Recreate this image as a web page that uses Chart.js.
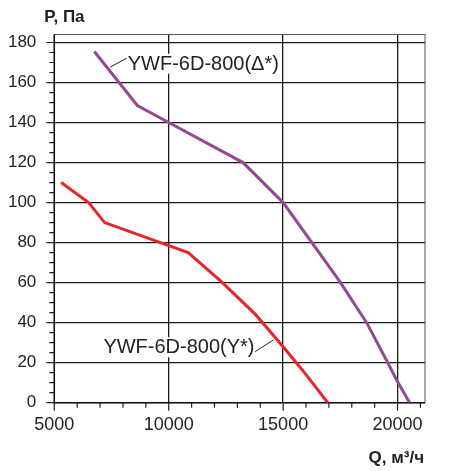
<!DOCTYPE html>
<html>
<head>
<meta charset="utf-8">
<script src="https://cdn.jsdelivr.net/npm/chart.js@4.4.0/dist/chart.umd.min.js"></script>
<style>
  body { margin: 0; background: #fff; }
  #wrap { width: 454px; height: 471px; }
</style>
</head>
<body>
<div id="wrap"><canvas id="chart"></canvas></div>
<script>
// curve data
const qDelta = [6750, 8630, 10000, 13250, 15000, 17450, 18650, 19550, 20000, 20530];
const pDelta = [175.5, 148.5, 140, 120, 100, 61, 40, 20.5, 10.5, 0];
const qStar = [5300, 6500, 7200, 10850, 12300, 13800, 15000, 15900, 16950];
const pStar = [110, 100, 90, 75, 60.5, 44, 28, 15.5, 0];

const labelDelta = 'YWF-6D-800(\u0394*)';
const labelStar = 'YWF-6D-800(Y*)';

const xTicks = [];
for (let q = 5000; q <= 21000; q += 1000) xTicks.push(q);
const yTicks = [];
for (let p = 0; p <= 180; p += 5) yTicks.push(p);

const purple = '#974893';
const red = '#e6262a';

function toPoints(xs, ys) {
    return xs.map((x, i) => ({ x: x, y: ys[i] }));
}

// frame, minor ticks, axis titles and curve labels
const extras = {
    id: 'extras',
    beforeDatasetsDraw(chart) {
        const ctx = chart.ctx;
        const a = chart.chartArea;
        const xs = chart.scales.x;
        const ys = chart.scales.y;
        ctx.save();
        ctx.strokeStyle = '#555';
        ctx.lineWidth = 1;
        ctx.strokeRect(a.left, a.top, a.right - a.left, a.bottom - a.top);

        ctx.strokeStyle = '#222';
        ctx.lineWidth = 1.2;
        ctx.beginPath();
        xs.ticks.forEach(t => {
            const px = xs.getPixelForValue(t.value);
            const len = t.value % 5000 === 0 ? 8 : 5;
            ctx.moveTo(px, a.bottom);
            ctx.lineTo(px, a.bottom + len);
        });
        ys.ticks.forEach(t => {
            const py = ys.getPixelForValue(t.value);
            const len = t.value % 20 === 0 ? 8 : 5;
            ctx.moveTo(a.left, py);
            ctx.lineTo(a.left - len, py);
        });
        ctx.stroke();

        ctx.strokeStyle = '#111';
        ctx.lineWidth = 1.5;
        ctx.beginPath();
        ctx.moveTo(a.left, a.top);
        ctx.lineTo(a.left, a.bottom);
        ctx.lineTo(a.right, a.bottom);
        ctx.stroke();

        ctx.fillStyle = '#222';
        ctx.font = 'bold 17px "Liberation Sans", Arial, sans-serif';
        ctx.textBaseline = 'alphabetic';
        ctx.textAlign = 'left';
        ctx.fillText('P, \u041f\u0430', a.left - 10, 22);
        ctx.textAlign = 'right';
        ctx.fillText('Q, \u043c\u00b3/\u0447', a.right - 1, 463);
        ctx.restore();
    },
    afterDatasetsDraw(chart) {
        const ctx = chart.ctx;
        const xs = chart.scales.x;
        const ys = chart.scales.y;
        ctx.save();
        ctx.font = '20px "Liberation Sans", Arial, sans-serif';
        ctx.textBaseline = 'alphabetic';

        // label for the delta curve, text starts to the right
        let tx = xs.getPixelForValue(8210);
        let ty = ys.getPixelForValue(166.4);
        let w = ctx.measureText(labelDelta).width;
        ctx.fillStyle = '#fff';
        ctx.fillRect(tx - 1, ty - 16, w + 2, 20);
        ctx.fillStyle = '#222';
        ctx.textAlign = 'left';
        ctx.fillText(labelDelta, tx, ty);
        ctx.strokeStyle = '#222';
        ctx.lineWidth = 1;
        ctx.beginPath();
        ctx.moveTo(xs.getPixelForValue(7440), ys.getPixelForValue(167.7));
        ctx.lineTo(xs.getPixelForValue(8170), ys.getPixelForValue(172.2));
        ctx.stroke();

        // label for the star curve, text ends to the left
        tx = xs.getPixelForValue(13750);
        ty = ys.getPixelForValue(24.7);
        w = ctx.measureText(labelStar).width;
        ctx.fillStyle = '#fff';
        ctx.fillRect(tx - w - 1, ty - 16, w + 2, 20);
        ctx.fillStyle = '#222';
        ctx.textAlign = 'right';
        ctx.fillText(labelStar, tx, ty);
        ctx.beginPath();
        ctx.moveTo(xs.getPixelForValue(13780), ys.getPixelForValue(25.5));
        ctx.lineTo(xs.getPixelForValue(14580), ys.getPixelForValue(31.4));
        ctx.stroke();
        ctx.restore();
    }
};

const chartCanvas = document.getElementById('chart').getContext('2d');
new Chart(chartCanvas, {
    type: 'scatter',
    data: {
        datasets: [
            {
                label: labelDelta,
                data: toPoints(qDelta, pDelta),
                showLine: true,
                borderColor: purple,
                borderWidth: 3,
                pointRadius: 0,
                tension: 0
            },
            {
                label: labelStar,
                data: toPoints(qStar, pStar),
                showLine: true,
                borderColor: red,
                borderWidth: 3,
                pointRadius: 0,
                tension: 0
            }
        ]
    },
    options: {
        responsive: true,
        maintainAspectRatio: false,
        animation: false,
        layout: { padding: { top: 34.5, right: 29, left: 0, bottom: 0 } },
        plugins: {
            legend: { display: false },
            tooltip: { enabled: false }
        },
        scales: {
            x: {
                type: 'linear',
                min: 5000,
                max: 21200,
                afterBuildTicks: s => { s.ticks = xTicks.map(v => ({ value: v })); },
                afterFit: s => { s.height = 68.3; },
                border: { display: false },
                grid: {
                    drawTicks: false,
                    lineWidth: 1.3,
                    color: c => (c.tick && c.tick.value % 5000 === 0 && c.tick.value !== 5000) ? '#1a1a1a' : 'transparent'
                },
                ticks: {
                    padding: 12,
                    maxRotation: 0,
                    autoSkip: false,
                    color: '#222',
                    font: { family: '"Liberation Sans", Arial, sans-serif', size: 18 },
                    callback: v => v % 5000 === 0 ? String(v) : ''
                }
            },
            y: {
                min: 0,
                max: 184,
                afterBuildTicks: s => { s.ticks = yTicks.map(v => ({ value: v })); },
                afterFit: s => { s.width = 54.3; },
                border: { display: false },
                grid: {
                    drawTicks: false,
                    lineWidth: 1.3,
                    color: c => (c.tick && c.tick.value % 20 === 0 && c.tick.value !== 0) ? '#1a1a1a' : 'transparent'
                },
                ticks: {
                    padding: 18,
                    autoSkip: false,
                    color: '#222',
                    font: { family: '"Liberation Sans", Arial, sans-serif', size: 17 },
                    callback: v => v % 20 === 0 ? String(v) : ''
                }
            }
        }
    },
    plugins: [extras]
});
</script>
</body>
</html>
